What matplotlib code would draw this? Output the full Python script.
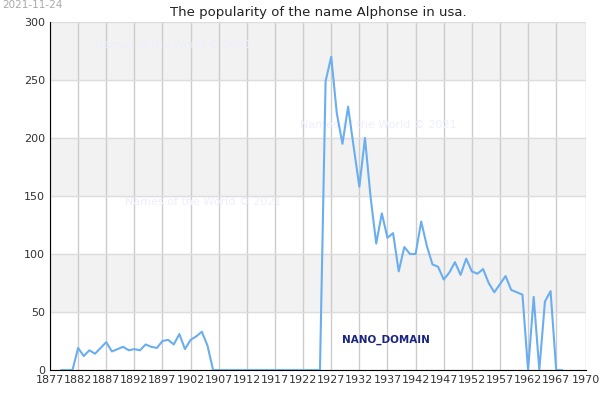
import matplotlib
matplotlib.use("Agg")
import matplotlib.pyplot as plt

years = list(range(1879, 1969))
values = [0, 0, 0, 19, 12, 17, 14, 19, 24, 16, 18, 20, 17, 18, 17, 22, 20, 19, 25, 26, 22, 31, 18, 26, 29, 33, 21,
          0, 0, 0, 0, 0, 0, 0, 0, 0, 0, 0, 0, 0, 0, 0, 0, 0, 0, 0, 0,
          249, 270, 221, 195, 227, 192, 158, 200, 149, 109, 135, 114, 118, 85, 106, 100, 100, 128, 107, 91, 89,
          78, 84, 93, 82, 96, 85, 83, 87, 75, 67, 74, 81, 69, 67, 65, 0, 63, 0, 59, 68, 0, 0]
xticks = list(range(1877, 1968, 5))
xmax = 1972.3

fig = plt.figure(figsize=(6, 4), dpi=100)
ax = fig.add_axes([50/600, 30/400, 536/600, 348/400])
for lo in (50, 150, 250):
    ax.axhspan(lo, lo + 50, color="#f2f2f2", zorder=0)
ax.plot(years, values, color="#6aaef0", lw=1.5, zorder=3)
ax.set_xlim(1877, xmax)
ax.set_ylim(0, 300)
ax.set_xticks(xticks + [xmax])
ax.set_xticklabels([str(t) for t in xticks] + ["1970"])
ax.set_yticks(range(0, 301, 50))
ax.grid(axis="x", color="#cccccc", lw=1, zorder=1)
ax.grid(axis="y", color="#dddddd", lw=1, zorder=1)
ax.tick_params(length=0, labelsize=8, colors="#333333")
for s in ("top", "right"):
    ax.spines[s].set_visible(False)
ax.set_title("The popularity of the name Alphonse in usa.", fontsize=9.5, color="#222222", pad=4)
fig.text(2/600, 1 - 5/400, "2021-11-24", fontsize=7.5, color="#aaaaaa", va="center")
wm = dict(fontsize=8, color="#eeeeff", zorder=2, va="center")
ax.text(1885, 280, "Names of the World © 2021", **wm)
ax.text(1921.5, 211, "Names of the World © 2021", **wm)
ax.text(1890.3, 145, "Names of the World © 2021", **wm)
ax.text(1929, 26, "NANO_DOMAIN", fontsize=7.5, color="#1a237e", fontweight="bold", va="center", zorder=4)
fig.savefig("out.png")
